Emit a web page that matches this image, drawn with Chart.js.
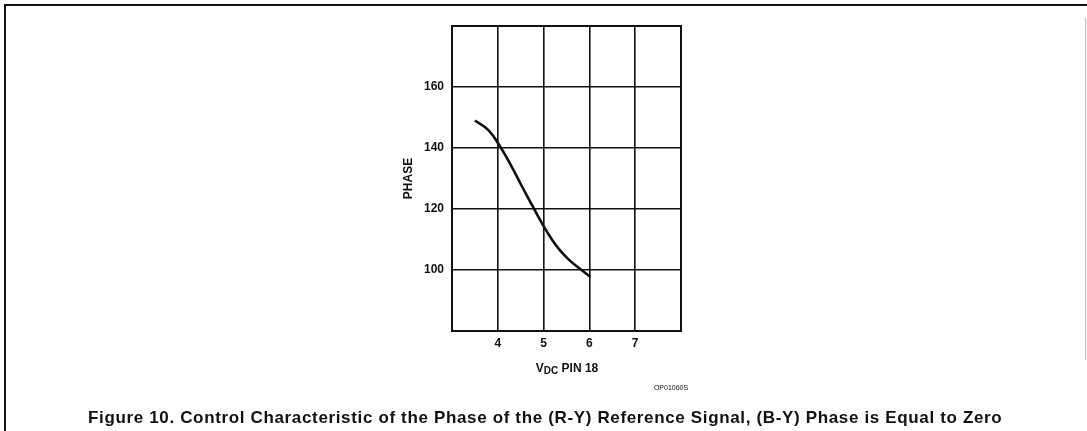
<!DOCTYPE html>
<html>
<head>
<meta charset="utf-8">
<script src="https://cdn.jsdelivr.net/npm/chart.js@4.4.1/dist/chart.umd.min.js"></script>
<style>
  html, body { margin: 0; padding: 0; background: #fff; }
  #wrap { width: 1087px; height: 431px; position: relative; }
</style>
</head>
<body>
<div id="wrap"><canvas id="phaseChart"></canvas></div>
<script>
// control voltage on pin 18 (V) and the resulting R-Y phase (degrees)
const vdcPin18 = [3.5, 3.8, 4.05, 4.3, 4.5, 4.7, 4.8, 5.0, 5.2, 5.35, 5.55, 5.8, 6.02];
const phaseDeg = [149, 145.8, 140.5, 134, 128.2, 122.6, 119.8, 114.4, 109.6, 106.6, 103.4, 100.3, 97.8];

const xTicks = [4, 5, 6, 7];
const yTicks = [100, 120, 140, 160];

const captionText = "Figure 10. Control Characteristic of the Phase of the (R-Y) Reference Signal, (B-Y) Phase is Equal to Zero";
const partCode = "OP01060S";

const FONT = "'Liberation Sans', Arial, Helvetica, sans-serif";

// frame around the figure, plot box, x title with subscript, caption
const figureDecor = {
  id: "figureDecor",
  afterDraw(chart) {
    const ctx = chart.ctx;
    const a = chart.chartArea;
    ctx.save();

    // outer figure frame
    ctx.strokeStyle = "#111";
    ctx.lineWidth = 2;
    ctx.beginPath();
    ctx.moveTo(5, 431);
    ctx.lineTo(5, 5);
    ctx.lineTo(1087, 5);
    ctx.stroke();
    ctx.strokeStyle = "#bbb";
    ctx.lineWidth = 1;
    ctx.beginPath();
    ctx.moveTo(1085.5, 18);
    ctx.lineTo(1085.5, 360);
    ctx.stroke();

    // plot box
    ctx.strokeStyle = "#111";
    ctx.lineWidth = 2;
    ctx.strokeRect(a.left, a.top, a.right - a.left, a.bottom - a.top);

    // x axis title: V with DC subscript, then PIN 18
    ctx.fillStyle = "#111";
    ctx.textBaseline = "alphabetic";
    ctx.textAlign = "left";
    const big = "bold 12px " + FONT;
    const small = "bold 10px " + FONT;
    ctx.font = big;
    const wV = ctx.measureText("V").width;
    ctx.font = small;
    const wDC = ctx.measureText("DC").width;
    ctx.font = big;
    const wRest = ctx.measureText(" PIN 18").width;
    let x = 567 - (wV + wDC + wRest) / 2;
    const base = 372;
    ctx.fillText("V", x, base);
    x += wV;
    ctx.font = small;
    ctx.fillText("DC", x, base + 2);
    x += wDC;
    ctx.font = big;
    ctx.fillText(" PIN 18", x, base);

    // part code
    ctx.font = "7px " + FONT;
    ctx.textAlign = "center";
    ctx.fillText(partCode, 671, 390);

    // caption, spread across the figure width
    ctx.font = "bold 17px " + FONT;
    ctx.textAlign = "left";
    const capWidth = 914;
    const natural = ctx.measureText(captionText).width;
    const spacing = Math.max(0, (capWidth - natural) / (captionText.length - 1));
    ctx.letterSpacing = spacing.toFixed(2) + "px";
    ctx.fillText(captionText, 545 - Math.max(capWidth, natural) / 2, 423);
    ctx.letterSpacing = "0px";

    ctx.restore();
  }
};

const points = vdcPin18.map((v, i) => ({ x: v, y: phaseDeg[i] }));

new Chart(document.getElementById("phaseChart"), {
  type: "line",
  data: {
    datasets: [
      {
        data: points,
        borderColor: "#111",
        borderWidth: 2.6,
        pointRadius: 0,
        fill: false,
        tension: 0.4,
      },
    ],
  },
  options: {
    responsive: true,
    maintainAspectRatio: false,
    animation: false,
    events: [],
    layout: { padding: { left: 395, right: 406, top: 26, bottom: 76 } },
    plugins: { legend: { display: false }, tooltip: { enabled: false } },
    scales: {
      x: {
        type: "linear",
        min: 3,
        max: 8,
        afterBuildTicks: (scale) => { scale.ticks = xTicks.map((v) => ({ value: v })); },
        afterFit: (scale) => { scale.height = 24; },
        grid: { color: "#111", lineWidth: 1.6, drawTicks: false },
        border: { display: false },
        ticks: { color: "#111", padding: 5, font: { family: FONT, size: 12, weight: "bold" } },
      },
      y: {
        type: "linear",
        min: 80,
        max: 180,
        afterBuildTicks: (scale) => { scale.ticks = yTicks.map((v) => ({ value: v })); },
        afterFit: (scale) => { scale.width = 57; },
        grid: { color: "#111", lineWidth: 1.6, drawTicks: false },
        border: { display: false },
        title: {
          display: true,
          text: "PHASE",
          color: "#111",
          padding: { top: 6, bottom: 0 },
          font: { family: FONT, size: 12, weight: "bold" },
        },
        ticks: { color: "#111", padding: 8, font: { family: FONT, size: 12, weight: "bold" } },
      },
    },
  },
  plugins: [figureDecor],
});
</script>
</body>
</html>
